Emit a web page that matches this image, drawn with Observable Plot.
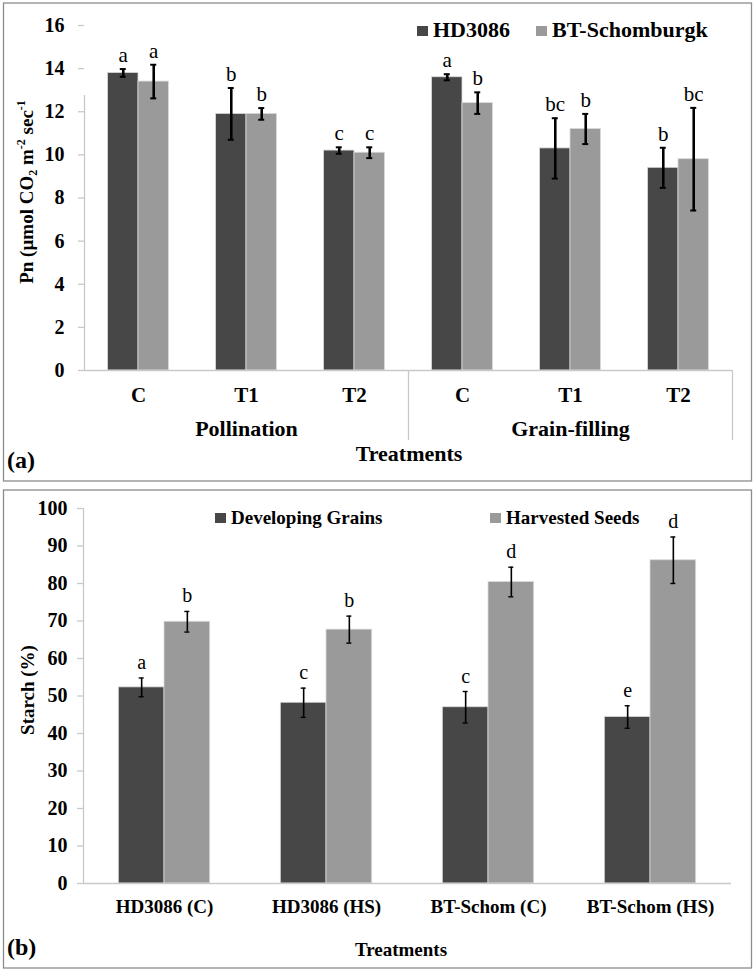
<!DOCTYPE html>
<html>
<head>
<meta charset="utf-8">
<script src="https://cdn.jsdelivr.net/npm/d3@7"></script>
<script src="https://cdn.jsdelivr.net/npm/@observablehq/plot@0.6"></script>
<style>
  html, body { margin: 0; padding: 0; background: #fff; }
  #page { position: relative; width: 755px; height: 972px; overflow: hidden; font-family: "Liberation Serif", "Times New Roman", serif; }
  #plotA { position: absolute; left: 0; top: 0; }
  #plotB { position: absolute; left: 0; top: 486px; }
  #overlay { position: absolute; left: 0; top: 0; pointer-events: none; }
</style>
</head>
<body>
<div id="page">
  <div id="plotA"></div>
  <div id="plotB"></div>
  <svg id="overlay" width="755" height="972"></svg>
</div>
<script>
// ---------- Panel (a): net photosynthesis ----------
const pnStages = ["Pollination", "Grain-filling"];
const pnTreatments = ["C", "T1", "T2", "C", "T1", "T2"];
const pnSeries = ["HD3086", "BT-Schomburgk"];
const pnHD = [13.8, 11.9, 10.2, 13.6, 10.3, 9.4];
const pnHDErr = [0.18, 1.2, 0.15, 0.14, 1.4, 0.93];
const pnBT = [13.4, 11.9, 10.1, 12.4, 11.2, 9.8];
const pnBTErr = [0.78, 0.27, 0.25, 0.5, 0.7, 2.38];
const pnHDLetters = ["a", "b", "c", "a", "bc", "b"];
const pnBTLetters = ["a", "b", "c", "b", "b", "bc"];
const pnTicks = [0, 2, 4, 6, 8, 10, 12, 14, 16];

// ---------- Panel (b): starch ----------
const stTreatments = ["HD3086 (C)", "HD3086 (HS)", "BT-Schom (C)", "BT-Schom (HS)"];
const stSeries = ["Developing Grains", "Harvested Seeds"];
const stDev = [52.3, 48.2, 47.0, 44.4];
const stDevErr = [2.5, 3.9, 4.2, 3.0];
const stHarv = [69.8, 67.7, 80.4, 86.2];
const stHarvErr = [2.75, 3.6, 3.95, 6.2];
const stDevLetters = ["a", "c", "c", "e"];
const stHarvLetters = ["b", "b", "d", "d"];
const stTicks = [0, 10, 20, 30, 40, 50, 60, 70, 80, 90, 100];

const DARK = "#474747", LIGHT = "#9a9a9a", AXIS = "#c9c9c9";
const FONT = "'Liberation Serif', 'Times New Roman', serif";

// bar slots inside a category cell (fraction of one category unit)
const barFrac = [[0.218, 0.5], [0.5, 0.782]];

function buildRows(cats, seriesNames, values, errs, letters) {
  const out = [];
  cats.forEach((c, i) => seriesNames.forEach((s, k) => {
    const x1 = i + barFrac[k][0], x2 = i + barFrac[k][1];
    out.push({cat: c, series: s, i, x1, x2, cx: (x1 + x2) / 2,
      value: values[k][i], err: errs[k][i], letter: letters[k][i]});
  }));
  return out;
}

const rowsA = buildRows(pnTreatments, pnSeries, [pnHD, pnBT], [pnHDErr, pnBTErr], [pnHDLetters, pnBTLetters]);
const rowsB = buildRows(stTreatments, stSeries, [stDev, stHarv], [stDevErr, stHarvErr], [stDevLetters, stHarvLetters]);

const plotA = Plot.plot({
  width: 755, height: 478,
  marginLeft: 84, marginRight: 23, marginTop: 25, marginBottom: 108,
  x: {domain: [0, pnTreatments.length], axis: null},
  y: {domain: [0, 16], label: null},
  color: {domain: pnSeries, range: [DARK, LIGHT]},
  style: {background: "transparent", fontFamily: FONT, color: "#000", overflow: "visible"},
  marks: [
    Plot.rect(rowsA, {x1: "x1", x2: "x2", y1: 0, y2: "value", fill: "series", stroke: "#dadada", strokeWidth: 0.8}),
    Plot.ruleY([0], {stroke: AXIS, strokeWidth: 1.3}),
    Plot.ruleX([0], {y1: 16, insetBottom: -70, stroke: AXIS, strokeWidth: 1.3}),
    Plot.ruleX([3, 6], {y1: 0, insetBottom: -70, stroke: AXIS, strokeWidth: 1.3}),
    Plot.ruleY(pnTicks, {x1: 0, x2: 0, insetLeft: -6, stroke: AXIS, strokeWidth: 1.3}),
    Plot.axisY({ticks: pnTicks, tickSize: 0, tickPadding: 20, fontSize: 20, fontWeight: "bold", label: null}),
    Plot.ruleX(rowsA, {x: "cx", y1: d => d.value - d.err, y2: d => d.value + d.err, stroke: "#000", strokeWidth: 2.6}),
    Plot.ruleY(rowsA, {x1: "cx", x2: "cx", y: d => d.value + d.err, insetLeft: -3, insetRight: -3, stroke: "#000", strokeWidth: 2}),
    Plot.ruleY(rowsA, {x1: "cx", x2: "cx", y: d => d.value - d.err, insetLeft: -3, insetRight: -3, stroke: "#000", strokeWidth: 2}),
    Plot.text(rowsA, {x: "cx", y: d => d.value + d.err, text: "letter", dy: -7, lineAnchor: "bottom", fontSize: 21, fill: "#000"}),
    Plot.text(pnTreatments, {x: (d, i) => i + 0.5, y: 0, text: d => d, dy: 31, lineAnchor: "bottom", fontSize: 21, fontWeight: "bold"}),
    Plot.text(pnStages, {x: (d, g) => g * 3 + 1.5, y: 0, text: d => d, dy: 65, lineAnchor: "bottom", fontSize: 22, fontWeight: "bold"})
  ]
});
document.getElementById("plotA").append(plotA);

const plotB = Plot.plot({
  width: 755, height: 482,
  marginLeft: 83, marginRight: 24, marginTop: 22, marginBottom: 85,
  x: {domain: [0, stTreatments.length], axis: null},
  y: {domain: [0, 100], label: null},
  color: {domain: stSeries, range: [DARK, LIGHT]},
  style: {background: "transparent", fontFamily: FONT, color: "#000", overflow: "visible"},
  marks: [
    Plot.rect(rowsB, {x1: "x1", x2: "x2", y1: 0, y2: "value", fill: "series", stroke: "#dadada", strokeWidth: 0.8}),
    Plot.ruleY([0], {stroke: AXIS, strokeWidth: 1.3}),
    Plot.ruleX([0], {y1: 0, y2: 100, stroke: AXIS, strokeWidth: 1.3}),
    Plot.ruleY(stTicks, {x1: 0, x2: 0, insetLeft: -6, stroke: AXIS, strokeWidth: 1.3}),
    Plot.axisY({ticks: stTicks, tickSize: 0, tickPadding: 16, fontSize: 20, fontWeight: "bold", label: null}),
    Plot.ruleX(rowsB, {x: "cx", y1: d => d.value - d.err, y2: d => d.value + d.err, stroke: "#000", strokeWidth: 1.6}),
    Plot.ruleY(rowsB, {x1: "cx", x2: "cx", y: d => d.value + d.err, insetLeft: -2.5, insetRight: -2.5, stroke: "#000", strokeWidth: 1.4}),
    Plot.ruleY(rowsB, {x1: "cx", x2: "cx", y: d => d.value - d.err, insetLeft: -2.5, insetRight: -2.5, stroke: "#000", strokeWidth: 1.4}),
    Plot.text(rowsB, {x: "cx", y: d => d.value + d.err, text: "letter", dy: -9, lineAnchor: "bottom", fontSize: 20, fill: "#000"}),
    Plot.text(stTreatments, {x: (d, i) => i + 0.5, y: 0, text: d => d, dy: 29, lineAnchor: "bottom", fontSize: 19, fontWeight: "bold"})
  ]
});
document.getElementById("plotB").append(plotB);

// ---------- frames, legends, titles ----------
const ov = d3.select("#overlay").style("font-family", FONT);
ov.append("rect").attr("x", 3.5).attr("y", 3).attr("width", 748).attr("height", 478)
  .attr("fill", "none").attr("stroke", "#8c8c8c").attr("stroke-width", 1.3);
ov.append("rect").attr("x", 3.5).attr("y", 490).attr("width", 748).attr("height", 478)
  .attr("fill", "none").attr("stroke", "#8c8c8c").attr("stroke-width", 1.3);

function legend(x, y, sw, color, label, size) {
  ov.append("rect").attr("x", x).attr("y", y - sw + 1).attr("width", sw).attr("height", sw - 1).attr("fill", color);
  ov.append("text").attr("x", x + sw + 5).attr("y", y + 1).attr("font-size", size).attr("font-weight", "bold")
    .attr("fill", "#000").text(label);
}
legend(417, 36, 11, DARK, pnSeries[0], 22);
legend(536, 36, 11, LIGHT, pnSeries[1], 22);
legend(215, 523, 11, DARK, stSeries[0], 19);
legend(490, 523, 11, LIGHT, stSeries[1], 19);

ov.append("text").attr("x", 409).attr("y", 461).attr("text-anchor", "middle").attr("font-size", 22)
  .attr("font-weight", "bold").text("Treatments");
ov.append("text").attr("x", 7).attr("y", 468).attr("font-size", 24).attr("font-weight", "bold").text("(a)");
ov.append("text").attr("x", 401).attr("y", 956).attr("text-anchor", "middle").attr("font-size", 19)
  .attr("font-weight", "bold").text("Treatments");
ov.append("text").attr("x", 7).attr("y", 955).attr("font-size", 24).attr("font-weight", "bold").text("(b)");

const ty = ov.append("text").attr("transform", "translate(33,192) rotate(-90)")
  .attr("text-anchor", "middle").attr("font-size", 19).attr("font-weight", "bold");
ty.append("tspan").text("Pn (\u00b5mol CO");
ty.append("tspan").attr("font-size", 12).attr("dy", 4).text("2");
ty.append("tspan").attr("dy", -4).text(" m");
ty.append("tspan").attr("font-size", 12).attr("dy", -8).text("-2");
ty.append("tspan").attr("dy", 8).text(" sec");
ty.append("tspan").attr("font-size", 12).attr("dy", -8).text("-1");

ov.append("text").attr("transform", "translate(34,690) rotate(-90)")
  .attr("text-anchor", "middle").attr("font-size", 19).attr("font-weight", "bold").text("Starch (%)");
</script>
</body>
</html>
